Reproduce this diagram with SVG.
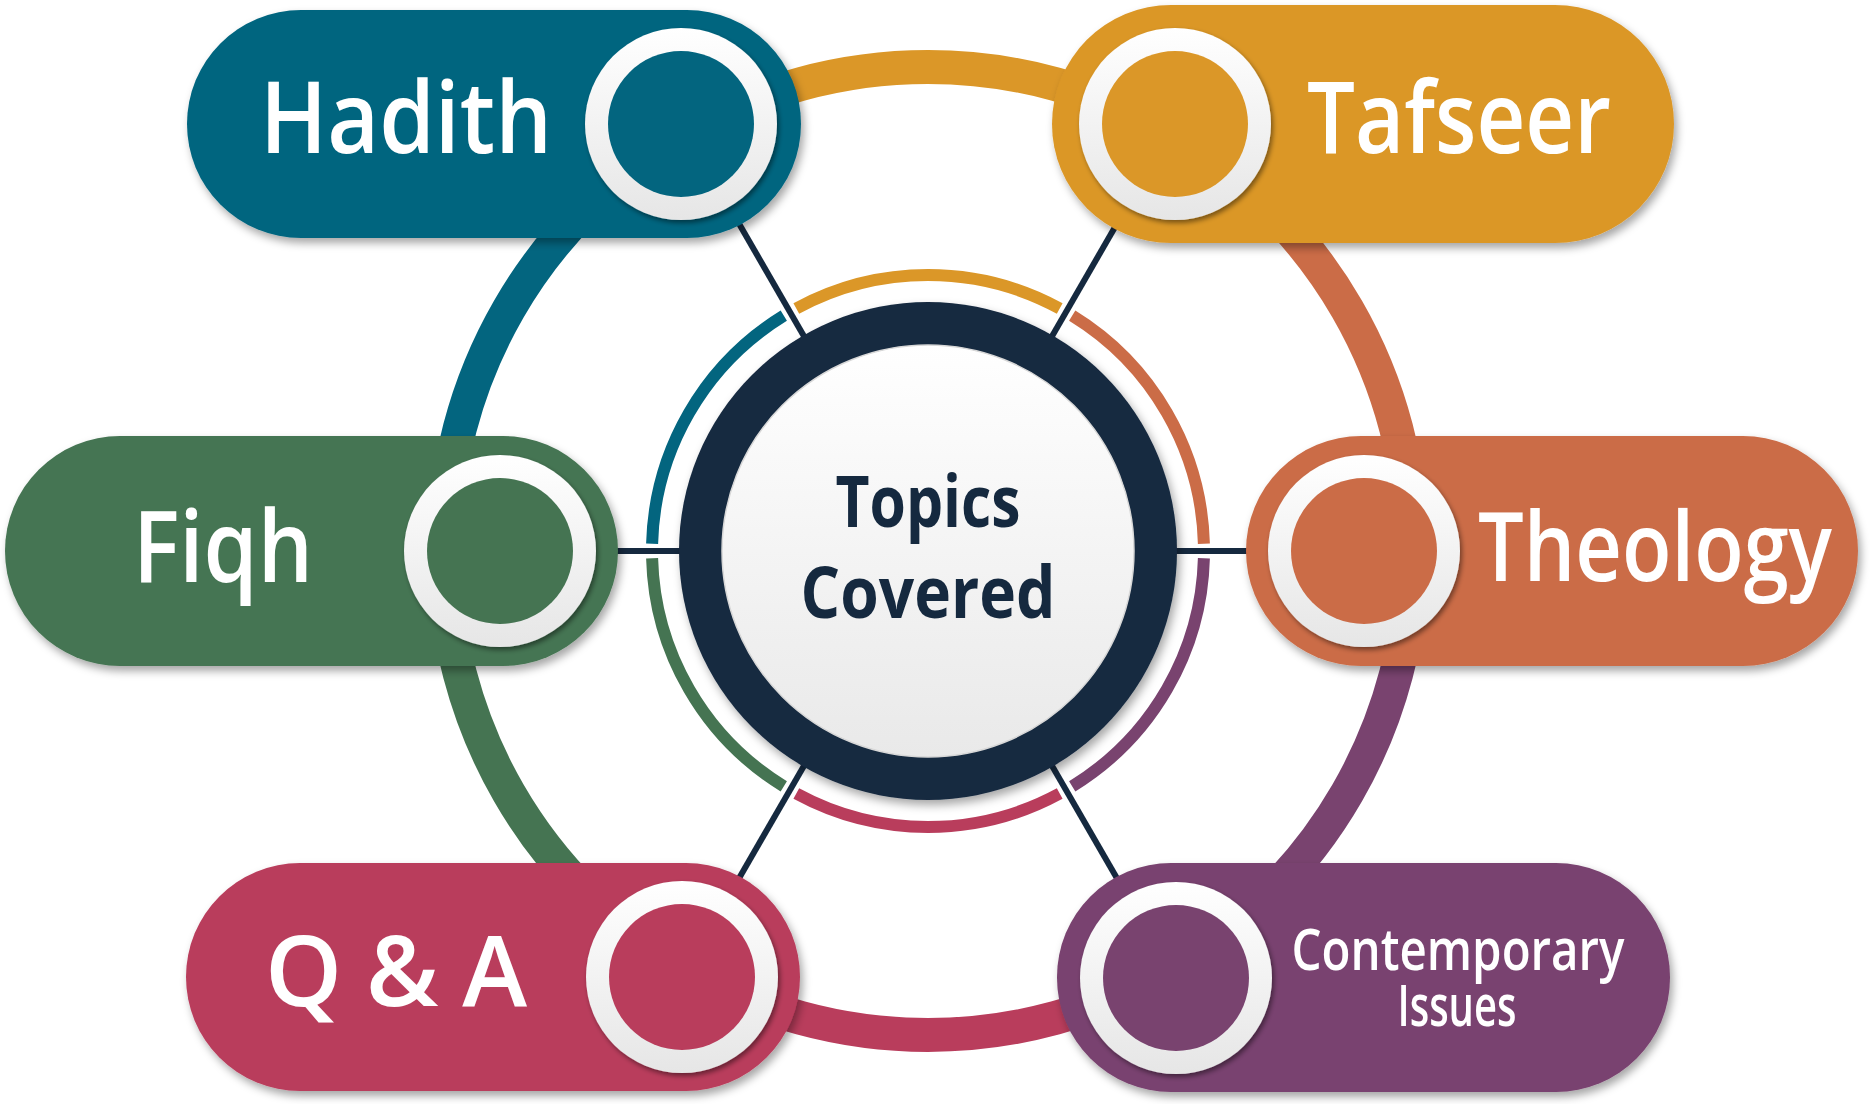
<svg xmlns="http://www.w3.org/2000/svg" width="1870" height="1104" viewBox="0 0 1870 1104">
<defs>
<style>
.lbl{fill:#ffffff;font-family:"Open Sans","Noto Sans",sans-serif;font-weight:600}
.ctr{fill:#15293F;font-family:"Open Sans","Noto Sans",sans-serif;font-weight:700}
.big{fill:none;stroke-width:34;stroke-linecap:butt}
.thin{fill:none;stroke-width:12;stroke-linecap:butt}
.line{stroke:#15293F;stroke-width:6;stroke-linecap:butt}
.ring{fill:url(#ringGrad);filter:url(#ringShadow)}
.pill{filter:url(#pillShadow)}
</style>
<linearGradient id="ringGrad" x1="0" y1="0" x2="0" y2="1">
<stop offset="0" stop-color="#ffffff"/>
<stop offset="1" stop-color="#e6e6e6"/>
</linearGradient>
<linearGradient id="centerGrad" x1="0" y1="0" x2="0" y2="1">
<stop offset="0" stop-color="#ffffff"/>
<stop offset="1" stop-color="#e9e9e9"/>
</linearGradient>
<filter id="pillShadow" x="-10%" y="-20%" width="125%" height="145%">
<feDropShadow dx="3" dy="5" stdDeviation="4" flood-color="#000" flood-opacity="0.35"/>
</filter>
<filter id="ringShadow" x="-20%" y="-20%" width="145%" height="145%">
<feDropShadow dx="2" dy="3" stdDeviation="2.5" flood-color="#000" flood-opacity="0.45"/>
</filter>
<filter id="centerShadow" x="-20%" y="-20%" width="145%" height="145%">
<feDropShadow dx="3" dy="5" stdDeviation="5" flood-color="#000" flood-opacity="0.35"/>
</filter>
</defs>
<rect x="0" y="0" width="1870" height="1104" fill="#ffffff"/>

<g id="connectors">
<path class="big" stroke="#DB9728" d="M1170,131.84 A484,484 0 0 0 686,131.84"/>
<path class="big" stroke="#03657F" d="M686,131.84 A484,484 0 0 0 444,551"/>
<path class="big" stroke="#457452" d="M444,551 A484,484 0 0 0 686,970.16"/>
<path class="big" stroke="#B93D5C" d="M686,970.16 A484,484 0 0 0 1170,970.16"/>
<path class="big" stroke="#79436F" d="M1170,970.16 A484,484 0 0 0 1412,551"/>
<path class="big" stroke="#CB6C47" d="M1412,551 A484,484 0 0 0 1170,131.84"/>

<path class="thin" stroke="#CB6C47" d="M1203.9,543.78 A276,276 0 0 0 1072.21,315.67"/>
<path class="thin" stroke="#DB9728" d="M1059.7,308.45 A276,276 0 0 0 796.3,308.45"/>
<path class="thin" stroke="#03657F" d="M783.79,315.67 A276,276 0 0 0 652.1,543.78"/>
<path class="thin" stroke="#457452" d="M652.1,558.22 A276,276 0 0 0 783.79,786.33"/>
<path class="thin" stroke="#B93D5C" d="M796.3,793.55 A276,276 0 0 0 1059.7,793.55"/>
<path class="thin" stroke="#79436F" d="M1072.21,786.33 A276,276 0 0 0 1203.9,558.22"/>

<line class="line" x1="1168" y1="551" x2="1260" y2="551"/>
<line class="line" x1="1048" y1="343.15" x2="1138" y2="187.27"/>
<line class="line" x1="808" y1="343.15" x2="718" y2="187.27"/>
<line class="line" x1="688" y1="551" x2="596" y2="551"/>
<line class="line" x1="808" y1="758.85" x2="718" y2="914.73"/>
<line class="line" x1="1048" y1="758.85" x2="1138" y2="914.73"/>
</g>

<g id="hadith">
<rect class="pill" x="187" y="10" width="614" height="228" rx="114" fill="#03657F"/>
<circle class="ring" cx="681" cy="124" r="96"/>
<circle cx="681" cy="124" r="73" fill="#03657F"/>
<text class="lbl" x="260" y="153" font-size="100" textLength="292" lengthAdjust="spacingAndGlyphs">Hadith</text>
</g>

<g id="tafseer">
<rect class="pill" x="1052" y="5" width="622" height="238" rx="119" fill="#DB9728"/>
<circle class="ring" cx="1175" cy="124" r="96"/>
<circle cx="1175" cy="124" r="73" fill="#DB9728"/>
<text class="lbl" x="1307" y="153" font-size="100" textLength="304" lengthAdjust="spacingAndGlyphs">Tafseer</text>
</g>

<g id="fiqh">
<rect class="pill" x="5" y="436" width="613" height="230" rx="115" fill="#457452"/>
<circle class="ring" cx="500" cy="551" r="96"/>
<circle cx="500" cy="551" r="73" fill="#457452"/>
<text class="lbl" x="133" y="582" font-size="100" textLength="180" lengthAdjust="spacingAndGlyphs">Fiqh</text>
</g>

<g id="theology">
<rect class="pill" x="1246" y="436" width="612" height="230" rx="115" fill="#CB6C47"/>
<circle class="ring" cx="1364" cy="551" r="96"/>
<circle cx="1364" cy="551" r="73" fill="#CB6C47"/>
<text class="lbl" x="1478" y="581" font-size="96" textLength="354" lengthAdjust="spacingAndGlyphs">Theology</text>
</g>

<g id="qa">
<rect class="pill" x="186" y="863" width="614" height="228" rx="114" fill="#B93D5C"/>
<circle class="ring" cx="682" cy="977" r="96"/>
<circle cx="682" cy="977" r="73" fill="#B93D5C"/>
<text class="lbl" x="265" y="1006" font-size="98" textLength="262" lengthAdjust="spacing">Q &amp; A</text>
</g>

<g id="contemporary">
<rect class="pill" x="1057" y="863" width="613" height="229" rx="114" fill="#79436F"/>
<circle class="ring" cx="1176" cy="978" r="96"/>
<circle cx="1176" cy="978" r="73" fill="#79436F"/>
<text class="lbl" x="1458" y="970" font-size="58" text-anchor="middle" textLength="333" lengthAdjust="spacingAndGlyphs">Contemporary</text>
<text class="lbl" x="1457" y="1026" font-size="58" text-anchor="middle" textLength="119" lengthAdjust="spacingAndGlyphs">Issues</text>
</g>

<g id="center">
<circle cx="928" cy="551" r="249" fill="#15293F" filter="url(#centerShadow)"/>
<circle cx="928" cy="551" r="206" fill="url(#centerGrad)" stroke="#d8d8d8" stroke-width="1.5"/>
<text class="ctr" x="928" y="527" font-size="71" text-anchor="middle" textLength="185" lengthAdjust="spacingAndGlyphs">Topics</text>
<text class="ctr" x="928" y="618" font-size="71" text-anchor="middle" textLength="255" lengthAdjust="spacingAndGlyphs">Covered</text>
</g>
</svg>
